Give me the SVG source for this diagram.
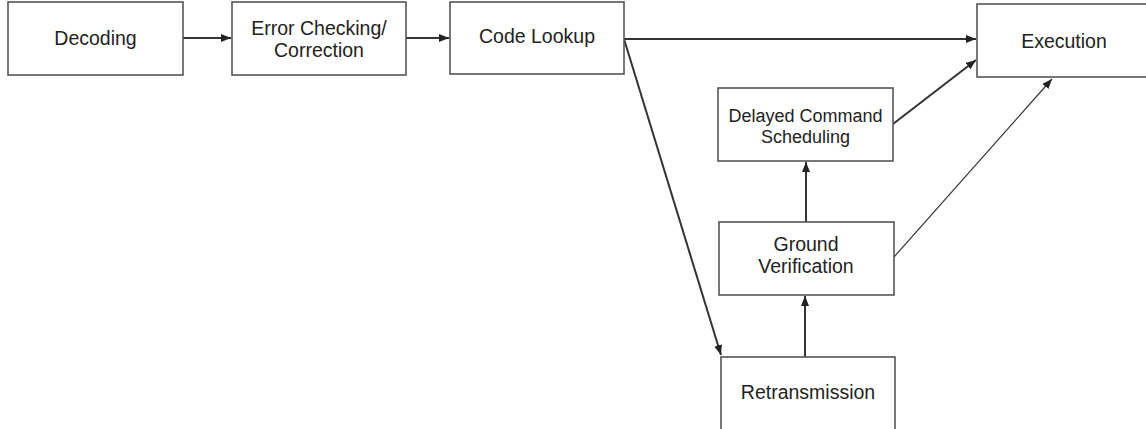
<svg xmlns="http://www.w3.org/2000/svg" width="1146" height="429" viewBox="0 0 1146 429">
  <defs>
    <marker id="arrow" viewBox="0 0 10 8" refX="10" refY="4" markerWidth="10" markerHeight="8" markerUnits="userSpaceOnUse" orient="auto">
      <path d="M0,0 L10,4 L0,8 z" fill="#222"/>
    </marker>
    <style>
      .box { fill: #fff; stroke: #555; stroke-width: 1.6; }
      .label { font-family: "Liberation Sans", Arial, sans-serif; font-size: 19.5px; fill: #222; text-anchor: middle; }
      .small { font-size: 18px; }
      .edge { fill: none; stroke: #333; stroke-width: 2; marker-end: url(#arrow); }
      .thin { stroke-width: 1.2; }
    </style>
  </defs>
  <rect width="1146" height="429" fill="#fff"/>

  <g id="connectors">
    <line class="edge" x1="183" y1="38" x2="231" y2="38"/>
    <line class="edge" x1="406" y1="38" x2="449" y2="38"/>
    <line class="edge" x1="624" y1="39" x2="976" y2="39"/>
    <line class="edge" x1="624" y1="39" x2="721" y2="355"/>
    <line class="edge" x1="893" y1="124" x2="976" y2="60"/>
    <line class="edge thin" x1="894" y1="257" x2="1052" y2="79"/>
    <line class="edge" x1="806" y1="222" x2="806" y2="162"/>
    <line class="edge" x1="805" y1="357" x2="805" y2="296"/>
  </g>

  <g id="decoding">
    <rect class="box" x="8" y="2" width="175" height="73"/>
    <text class="label" x="95.5" y="44.5">Decoding</text>
  </g>

  <g id="error-checking">
    <rect class="box" x="232" y="2" width="174" height="73"/>
    <text class="label" x="319" y="35">Error Checking/</text>
    <text class="label" x="319" y="57">Correction</text>
  </g>

  <g id="code-lookup">
    <rect class="box" x="450" y="2" width="174" height="72"/>
    <text class="label" x="537" y="43">Code Lookup</text>
  </g>

  <g id="execution">
    <rect class="box" x="977" y="4" width="180" height="73"/>
    <text class="label" x="1064" y="48">Execution</text>
  </g>

  <g id="delayed-command-scheduling">
    <rect class="box" x="718" y="88" width="175" height="73"/>
    <text class="label small" x="805.5" y="122">Delayed Command</text>
    <text class="label small" x="805.5" y="143">Scheduling</text>
  </g>

  <g id="ground-verification">
    <rect class="box" x="719" y="222" width="175" height="73"/>
    <text class="label" x="806" y="251">Ground</text>
    <text class="label" x="806" y="273">Verification</text>
  </g>

  <g id="retransmission">
    <rect class="box" x="721" y="357" width="174" height="80"/>
    <text class="label" x="808" y="399">Retransmission</text>
  </g>
</svg>
